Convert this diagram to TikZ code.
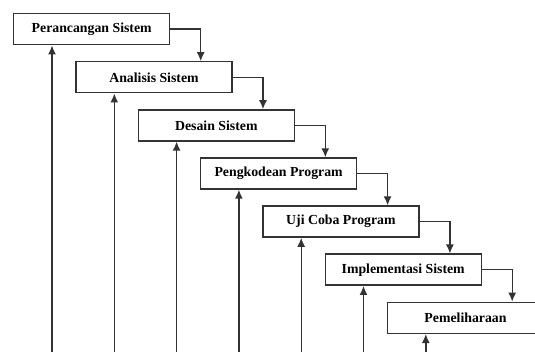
\documentclass[tikz,border=0pt]{standalone}
\usepackage{fontspec}
\setmainfont{Liberation Serif}
\usetikzlibrary{positioning,arrows.meta}
\tikzset{
    waterfall/.style={
        x=1pt, y=-1pt,
        line width=1.4pt,
        % Stile per le fasi (rettangolo)
        tahap/.style={draw=black!80, rectangle, align=center,
                      minimum width=156pt, minimum height=31pt,
                      inner sep=2pt, font=\fontsize{13.8}{15}\selectfont\bfseries},
        % Stile per le frecce
        alur/.style={draw=black!80, -{Latex[length=9pt,width=8pt]}}
    }
}
\begin{document}
\begin{tikzpicture}[waterfall]
      \clip (0,0) rectangle (535,352);
      \coordinate (bawah) at (0,352);
      \node[tahap, anchor=north west] (perancangan) at (13,13) {Perancangan Sistem};
      \node[tahap, below right=15.7pt and 62.3pt of perancangan.south west] (analisis) {Analisis Sistem};
      \node[tahap, below right=15.7pt and 62.3pt of analisis.south west] (desain) {Desain Sistem};
      \node[tahap, below right=15.7pt and 62.3pt of desain.south west] (pengkodean) {Pengkodean Program};
      \node[tahap, below right=15.7pt and 62.3pt of pengkodean.south west] (ujicoba) {Uji Coba Program};
      \node[tahap, below right=15.7pt and 62.3pt of ujicoba.south west] (implementasi) {Implementasi Sistem};
      \node[tahap, below right=15.7pt and 62.3pt of implementasi.south west] (pemeliharaan) {Pemeliharaan};
      % frecce in avanti
      \draw[alur] (perancangan.east) -| ([xshift=-32pt]analisis.north east);
      \draw[alur] (analisis.east) -| ([xshift=-32pt]desain.north east);
      \draw[alur] (desain.east) -| ([xshift=-32pt]pengkodean.north east);
      \draw[alur] (pengkodean.east) -| ([xshift=-32pt]ujicoba.north east);
      \draw[alur] (ujicoba.east) -| ([xshift=-32pt]implementasi.north east);
      \draw[alur] (implementasi.east) -| ([xshift=-32pt]pemeliharaan.north east);
      % frecce di ritorno
      \draw[alur] ([xshift=39pt]perancangan.south west |- bawah) -- ([xshift=39pt]perancangan.south west);
      \draw[alur] ([xshift=39pt]analisis.south west |- bawah) -- ([xshift=39pt]analisis.south west);
      \draw[alur] ([xshift=39pt]desain.south west |- bawah) -- ([xshift=39pt]desain.south west);
      \draw[alur] ([xshift=39pt]pengkodean.south west |- bawah) -- ([xshift=39pt]pengkodean.south west);
      \draw[alur] ([xshift=39pt]ujicoba.south west |- bawah) -- ([xshift=39pt]ujicoba.south west);
      \draw[alur] ([xshift=39pt]implementasi.south west |- bawah) -- ([xshift=39pt]implementasi.south west);
      \draw[alur] ([xshift=39pt]pemeliharaan.south west |- bawah) -- ([xshift=39pt]pemeliharaan.south west);
\end{tikzpicture}
\end{document}
